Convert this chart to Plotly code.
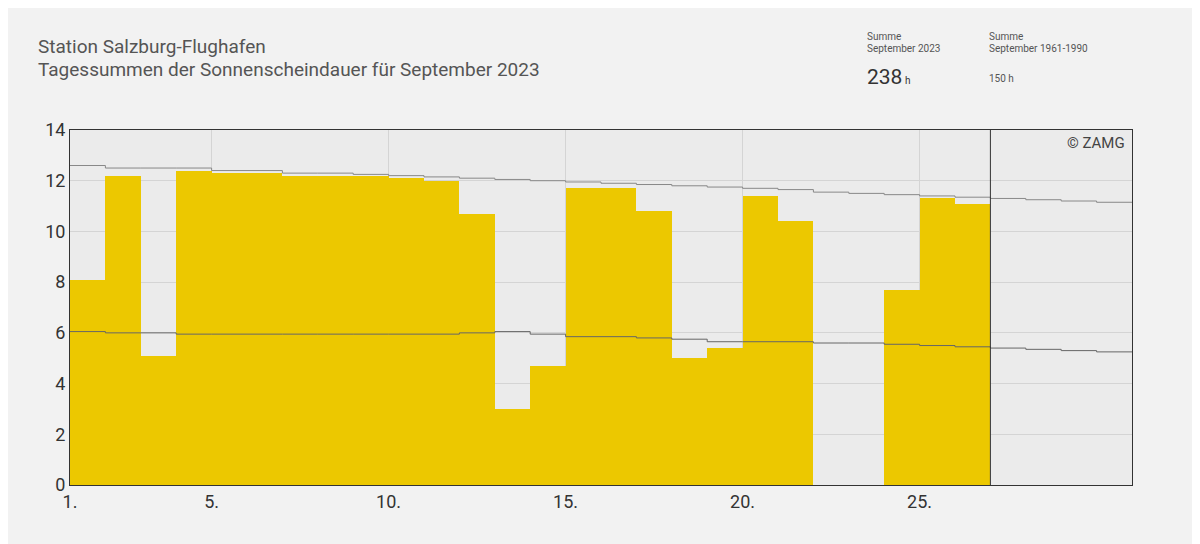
import plotly.graph_objects as go

days = list(range(1, 27))
sunshine = [8.1, 12.2, 5.1, 12.4, 12.3, 12.3, 12.2, 12.2, 12.2, 12.1, 12.0, 10.7, 3.0,
            4.7, 11.7, 11.7, 10.8, 5.0, 5.4, 11.4, 10.4, 0.0, 0.0, 7.7, 11.3, 11.1]
clim_days = list(range(1, 32))
astro_max = [12.6, 12.5, 12.5, 12.5, 12.4, 12.4, 12.3, 12.3, 12.25, 12.2, 12.15, 12.1, 12.05, 12.0,
             11.95, 11.9, 11.85, 11.8, 11.75, 11.7, 11.65, 11.55, 11.5, 11.45, 11.4, 11.35, 11.3,
             11.25, 11.2, 11.15, 11.15]
clim_mean = [6.05, 6.0, 6.0, 5.95, 5.95, 5.95, 5.95, 5.95, 5.95, 5.95, 5.95, 6.0, 6.05, 5.95,
             5.85, 5.85, 5.8, 5.75, 5.65, 5.65, 5.65, 5.6, 5.6, 5.55, 5.5, 5.45, 5.4, 5.35, 5.3,
             5.25, 5.25]

fig = go.Figure()
fig.add_trace(go.Bar(x=[d + 0.5 for d in days], y=sunshine, width=1.0,
                     marker=dict(color="#ecc800", line=dict(width=0))))
fig.add_trace(go.Scatter(x=clim_days, y=astro_max, mode="lines", line_shape="hv",
                         line=dict(color="#888888", width=1)))
fig.add_trace(go.Scatter(x=clim_days, y=clim_mean, mode="lines", line_shape="hv",
                         line=dict(color="#666666", width=1)))

fig.add_shape(type="line", x0=27, x1=27, y0=0, y1=14, line=dict(color="#333333", width=1))

font = "Roboto, Open Sans, sans-serif"
fig.update_layout(
    width=1192, height=536, showlegend=False, bargap=0,
    paper_bgcolor="#f2f2f2", plot_bgcolor="#ebebeb",
    margin=dict(l=62, r=68, t=122, b=59),
    font=dict(family=font, color="#444444"),
    xaxis=dict(range=[1, 31], tickvals=[1, 5, 10, 15, 20, 25],
               ticktext=["1.", "5.", "10.", "15.", "20.", "25."],
               tickfont=dict(size=18, color="#333"), showgrid=True, gridcolor="#d4d4d4",
               showline=True, linecolor="#333", mirror=True, zeroline=False),
    yaxis=dict(range=[0, 14], dtick=2, tickfont=dict(size=18, color="#333"),
               showgrid=True, gridcolor="#d4d4d4", showline=True, linecolor="#333",
               mirror=True, zeroline=False),
)

def pa(text, px, py, size, color="#555"):
    return dict(text=text, x=(px - 70) / 1062, y=(485 - py) / 355, xref="paper", yref="paper",
                xanchor="left", yanchor="middle", showarrow=False,
                font=dict(size=size, color=color, family=font))

fig.layout.annotations = [
    pa("Station Salzburg-Flughafen", 36, 46, 19),
    pa("Tagessummen der Sonnenscheindauer für September 2023", 36, 69, 19),
    pa("Summe", 865, 37, 10),
    pa("September 2023", 865, 48, 10),
    pa("Summe", 987, 37, 10),
    pa("September 1961-1990", 987, 48, 10),
    pa("238<span style='font-size:10px'> h</span>", 865, 77, 21, "#333"),
    pa("150 h", 987, 79, 10),
    dict(text="© ZAMG", xref="paper", yref="paper", x=0.995, y=0.995, xanchor="right",
         yanchor="top", showarrow=False, font=dict(size=15, color="#444", family=font)),
]
fig.write_html("out.html")
